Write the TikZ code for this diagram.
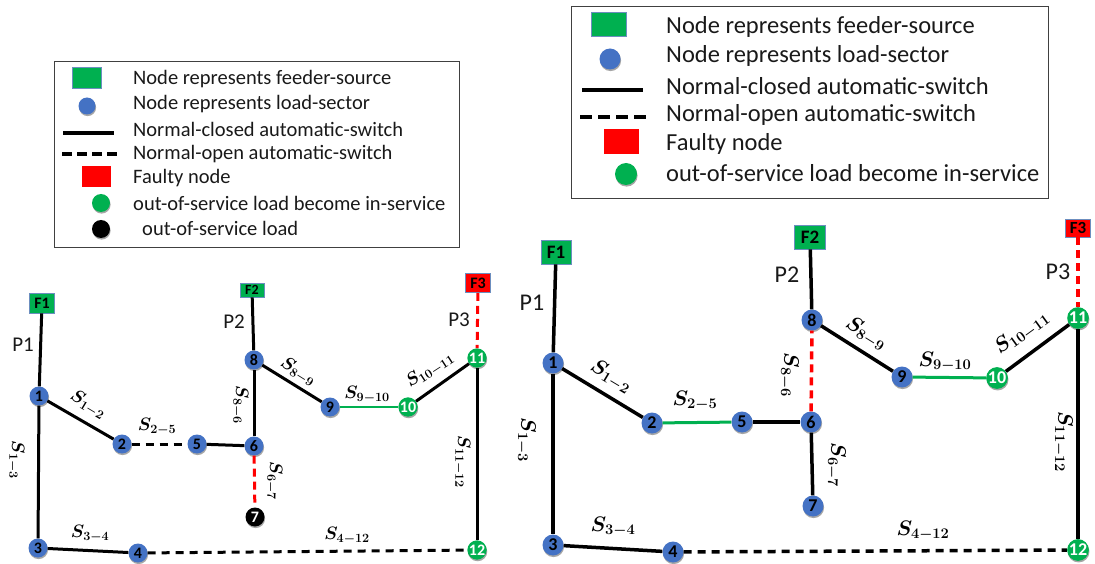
\RequirePackage{fix-cm}
\documentclass[tikz,border=0pt]{standalone}
\usepackage{fontspec}
\setmainfont{Carlito}
\usetikzlibrary{shadows}

\definecolor{feedgreen}{HTML}{00B050}
\definecolor{loadblue}{HTML}{4472C4}
\definecolor{faultred}{HTML}{FF0000}
\definecolor{rimblue}{HTML}{6C8EBF}

\newcommand{\fsz}[1]{\fontsize{#1}{#1}\selectfont}

\tikzset{
  x=1pt, y=-1pt,
  softshadow/.style={drop shadow={shadow xshift=0.6pt, shadow yshift=-1.6pt, opacity=0.35, fill=black}},
  bus/.style={circle, inner sep=0pt, minimum size=#1, softshadow},
  busblue/.style={bus=#1, fill=loadblue, text=black},
  busgreen/.style={bus=#1, fill=feedgreen, text=white},
  busblack/.style={bus=#1, fill=black, text=white},
  feeder/.style={draw=rimblue, line width=0.6pt, fill=feedgreen, inner sep=0pt, text=black},
  faultfeeder/.style={draw=rimblue, line width=0.6pt, fill=faultred, inner sep=0pt, text=black},
  closedsw/.style={draw=black, line width=#1},
  opensw/.style={draw=black, line width=#1, dash pattern=on 8pt off 6pt},
  faultsw/.style={draw=faultred, line width=#1, dash pattern=on 8pt off 5pt},
  restoredsw/.style={draw=feedgreen, line width=#1},
  legbox/.style={draw=black!75, line width=0.8pt},
  legtext/.style={anchor=west, inner sep=0pt, text=black!90},
  swlabel/.style={inner sep=0pt, text=black},
  plabel/.style={inner sep=0pt, text=black!90},
}

\begin{document}
\begin{tikzpicture}
\useasboundingbox (0,0) rectangle (1095,564);

% ---------------- left legend ----------------
\draw[legbox] (54,61) rectangle (459,247);
\node[feeder, minimum width=29pt, minimum height=21pt] (lgA) at (87,78) {};
\node[busblue=17pt] (lgB) at (87,106) {};
\coordinate (lgC1) at (63,133); \coordinate (lgC2) at (114,133);
\draw[closedsw=4pt] (lgC1) -- (lgC2);
\coordinate (lgD1) at (62,154); \coordinate (lgD2) at (117,154);
\draw[draw=black, line width=4pt, dash pattern=on 10pt off 5pt] (lgD1) -- (lgD2);
\node[fill=faultred, minimum width=29pt, minimum height=21pt, inner sep=0pt] (lgE) at (96,177) {};
\node[busgreen=18pt] (lgF) at (101,203) {};
\node[busblack=18pt] (lgG) at (101,229) {};
\begin{scope}[every node/.style={legtext, font=\fsz{20.5}}]
  \node (ltA) at (133,79) {Node represents feeder-source};
  \node (ltB) at (133,104) {Node represents load-sector};
  \node (ltC) at (133,129) {Normal-closed automatic-switch};
  \node (ltD) at (133,154) {Normal-open automatic-switch};
  \node (ltE) at (133,178) {Faulty node};
  \node (ltF) at (133,203) {out-of-service load become in-service};
  \node (ltG) at (142,228) {out-of-service load};
\end{scope}

% ---------------- right legend ----------------
\draw[legbox] (571,6) rectangle (1048,198);
\node[feeder, minimum width=35pt, minimum height=24pt] (rgA) at (609,24) {};
\node[busblue=21pt] (rgB) at (610,59) {};
\coordinate (rgC1) at (582,90); \coordinate (rgC2) at (643,90);
\draw[closedsw=4.5pt] (rgC1) -- (rgC2);
\coordinate (rgD1) at (580,117); \coordinate (rgD2) at (647,117);
\draw[draw=black, line width=4.5pt, dash pattern=on 12pt off 6pt] (rgD1) -- (rgD2);
\node[fill=faultred, minimum width=35pt, minimum height=25pt, inner sep=0pt] (rgE) at (621,142) {};
\node[busgreen=22pt] (rgF) at (626,174) {};
\begin{scope}[every node/.style={legtext, font=\fsz{24.5}}]
  \node (rtA) at (666,27) {Node represents feeder-source};
  \node (rtB) at (666,56) {Node represents load-sector};
  \node (rtC) at (666,86) {Normal-closed automatic-switch};
  \node (rtD) at (666,115) {Normal-open automatic-switch};
  \node (rtE) at (666,144) {Faulty node};
  \node (rtF) at (666,173) {out-of-service load become in-service};
\end{scope}

% ---------------- left network: after the fault ----------------
\node[feeder, minimum width=25pt, minimum height=20pt, font=\bfseries\fsz{16}] (LF1) at (42,303) {F1};
\node[feeder, minimum width=24pt, minimum height=14pt, font=\bfseries\fsz{14}] (LF2) at (252,290) {F2};
\node[faultfeeder, minimum width=25pt, minimum height=19pt, font=\bfseries\fsz{16}] (LF3) at (478,283) {F3};

\begin{scope}[every node/.append style={font=\bfseries\fsz{16}}]
  \node[busblue=19pt]  (L1)  at (39,396)  {1};
  \node[busblue=19pt]  (L2)  at (122,444) {2};
  \node[busblue=19pt]  (L3)  at (38,548)  {3};
  \node[busblue=19pt]  (L4)  at (138,553) {4};
  \node[busblue=19pt]  (L5)  at (197,444) {5};
  \node[busblue=19pt]  (L6)  at (254,446) {6};
  \node[busblack=19pt] (L7)  at (255,517) {7};
  \node[busblue=19pt]  (L8)  at (254,360) {8};
  \node[busblue=19pt]  (L9)  at (330,407) {9};
  \node[busgreen=19pt] (L10) at (408,407) {10};
  \node[busgreen=19pt] (L11) at (477,358) {11};
  \node[busgreen=19pt] (L12) at (477,550) {12};
\end{scope}

\draw[closedsw=3pt] (LF1) -- (L1);
\draw[closedsw=3pt] (L1) -- (L2);
\draw[closedsw=3pt] (L1) -- (L3);
\draw[closedsw=3pt] (L3) -- (L4);
\draw[opensw=3pt] (L2) -- (L5);
\draw[closedsw=3pt] (L5) -- (L6);
\draw[closedsw=3pt] (L6) -- (L8);
\draw[closedsw=3pt] (L8) -- (LF2);
\draw[closedsw=3pt] (L8) -- (L9);
\draw[restoredsw=2.6pt] (L9) -- (L10);
\draw[closedsw=3pt] (L10) -- (L11);
\draw[closedsw=3pt] (L11) -- (L12);
\draw[opensw=3pt] (L4) -- (L12);
\draw[faultsw=3pt] (L6) -- (L7);
\draw[faultsw=3pt] (LF3) -- (L11);

\begin{scope}[every node/.style={plabel, font=\fsz{21}}]
  \node (LP1) at (23,345) {P1};
  \node (LP2) at (234,322) {P2};
  \node (LP3) at (459,320) {P3};
\end{scope}

\begin{scope}[every node/.style={swlabel, font=\fsz{18}\boldmath}]
  \node[rotate=-31] (Ls12)  at (88,405)  {$S_{1-2}$};
  \node            (Ls25)  at (157,427) {$S_{2-5}$};
  \node[rotate=-90] (Ls13)  at (16,460)  {$S_{1-3}$};
  \node[rotate=-90] (Ls86)  at (240,405) {$S_{8-6}$};
  \node[rotate=-90] (Ls67)  at (274,481) {$S_{6-7}$};
  \node            (Ls34)  at (90,534)  {$S_{3-4}$};
  \node[rotate=-32] (Ls89)  at (298,372) {$S_{8-9}$};
  \node            (Ls910) at (367,395) {$S_{9-10}$};
  \node[rotate=33]  (Ls1011) at (430,370) {$S_{10-11}$};
  \node[rotate=-90] (Ls1112) at (462,462) {$S_{11-12}$};
  \node            (Ls412) at (347,536) {$S_{4-12}$};
\end{scope}

% ---------------- right network: after restoration ----------------
\node[feeder, minimum width=30pt, minimum height=24pt, font=\bfseries\fsz{19}] (RF1) at (556,252) {F1};
\node[feeder, minimum width=31pt, minimum height=24pt, font=\bfseries\fsz{19}] (RF2) at (810,237) {F2};
\node[faultfeeder, minimum width=25pt, minimum height=18pt, font=\bfseries\fsz{17}] (RF3) at (1078,228) {F3};

\begin{scope}[every node/.append style={font=\bfseries\fsz{18}}]
  \node[busblue=21pt]  (R1)  at (553,363)  {1};
  \node[busblue=21pt]  (R2)  at (652,423)  {2};
  \node[busblue=21pt]  (R3)  at (553,545)  {3};
  \node[busblue=21pt]  (R4)  at (673,552)  {4};
  \node[busblue=21pt]  (R5)  at (742,422)  {5};
  \node[busblue=21pt]  (R6)  at (811,422)  {6};
  \node[busblue=21pt]  (R7)  at (813,506)  {7};
  \node[busblue=21pt]  (R8)  at (812,320)  {8};
  \node[busblue=21pt]  (R9)  at (902,377)  {9};
  \node[busgreen=21pt] (R10) at (997,378)  {10};
  \node[busgreen=21pt] (R11) at (1078,318) {11};
  \node[busgreen=21pt] (R12) at (1078,550) {12};
\end{scope}

\draw[closedsw=3.5pt] (RF1) -- (R1);
\draw[closedsw=3.5pt] (R1) -- (R2);
\draw[closedsw=3.5pt] (R1) -- (R3);
\draw[closedsw=3.5pt] (R3) -- (R4);
\draw[restoredsw=3pt] (R2) -- (R5);
\draw[closedsw=3.5pt] (R5) -- (R6);
\draw[faultsw=3.5pt] (R6) -- (R8);
\draw[closedsw=3.5pt] (R8) -- (RF2);
\draw[closedsw=3.5pt] (R8) -- (R9);
\draw[restoredsw=3pt] (R9) -- (R10);
\draw[closedsw=3.5pt] (R10) -- (R11);
\draw[closedsw=3.5pt] (R11) -- (R12);
\draw[closedsw=3.5pt] (R6) -- (R7);
\draw[opensw=3.5pt] (R4) -- (R12);
\draw[faultsw=3.5pt] (RF3) -- (R11);

\begin{scope}[every node/.style={plabel, font=\fsz{24}}]
  \node (RP1) at (532,303) {P1};
  \node (RP2) at (787,275) {P2};
  \node (RP3) at (1058,272) {P3};
\end{scope}

\begin{scope}[every node/.style={swlabel, font=\fsz{21}\boldmath}]
  \node[rotate=-31] (Rs12)  at (611,377) {$S_{1-2}$};
  \node            (Rs25)  at (695,401) {$S_{2-5}$};
  \node[rotate=-90] (Rs13)  at (526,440) {$S_{1-3}$};
  \node[rotate=-90] (Rs86)  at (789,375) {$S_{8-6}$};
  \node[rotate=-90] (Rs67)  at (836,465) {$S_{6-7}$};
  \node            (Rs34)  at (613,527) {$S_{3-4}$};
  \node[rotate=-32] (Rs89)  at (866,334) {$S_{8-9}$};
  \node            (Rs910) at (945,362) {$S_{9-10}$};
  \node[rotate=36]  (Rs1011) at (1022,333) {$S_{10-11}$};
  \node[rotate=-90] (Rs1112) at (1063,442) {$S_{11-12}$};
  \node            (Rs412) at (923,531) {$S_{4-12}$};
\end{scope}
\end{tikzpicture}
\end{document}
